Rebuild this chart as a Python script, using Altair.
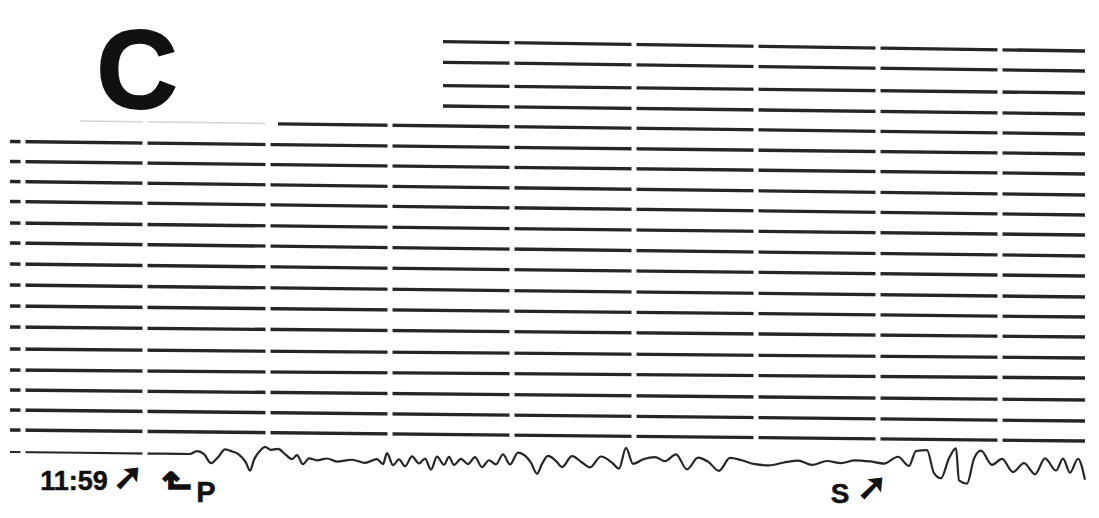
import altair as alt
import pandas as pd

# ---- record geometry (mm along / down the record) ----
minute_marks = [23, 145, 268, 390, 512, 634, 756, 878, 1000]
gap_top = [115, 115, 30, 30, 30, 30, 30, 30, 30]
gap_bottom = [458, 458, 446, 446, 446, 446, 446, 446, 446]

trace_start_x = [443, 443, 443, 443, 278] + [10] * 15
trace_start_pos = [41.7, 62.3, 85.7, 106, 123.8, 141.5, 161.5, 181.5, 201.5, 223,
                   243, 264, 285, 306, 327, 349, 370, 390, 410, 430]
trace_end_x = 1085
trace_end_pos = [51, 71, 93, 114, 134, 154, 174, 195, 215, 235,
                 256, 276, 297, 317, 337, 358, 378, 400, 421, 441]

faint_x = [80, 266]
faint_pos = [121, 123.5]

# last trace: baseline + wiggle displacement (down positive)
wiggle_base_start = 452
wiggle_base_drift = 0.011
wiggle_x = [10, 150, 190, 197, 204, 211, 218, 225, 232, 239, 246, 250, 254, 261, 265, 271,
            278, 285, 292, 297, 303, 309, 317, 327, 337, 352, 365, 377, 383, 387, 393, 399,
            405, 412, 419, 425, 431, 437, 444, 449, 454, 461, 468, 475, 482, 489, 496, 503,
            510, 518, 525, 531, 537, 542, 548, 556, 562, 572, 583, 590, 601, 612, 619, 626,
            633, 644, 655, 665, 676, 687, 698, 708, 719, 730, 741, 755, 769, 784, 798, 812,
            827, 841, 855, 870, 884, 898, 909, 916, 927, 934, 941, 949, 956, 959, 967, 974,
            981, 992, 1002, 1013, 1024, 1035, 1045, 1056, 1063, 1070, 1078, 1085]
wiggle_disp = [0, 0, 0, -3, 0, 9, 3, -5, -3, 0, 8, 16, 5, -5, -8, -5,
               -6, -1, 4, 0, 9, 3, 5, 3, 6, 4, 7, 3, 8, -3, 9, 3,
               10, 0, 7, 2, 13, 0, 8, 0, 8, 2, 7, 0, 10, 3, 7, -3,
               7, -5, -2, 5, 16, 6, -2, 3, 9, -2, 5, 9, -2, 4, 10, -11,
               5, 0, -2, 2, -5, 10, -2, 2, 11, -2, 0, 4, 5, 2, 0, 4,
               0, 2, -1, 0, 2, -5, 4, -11, -12, 11, 16, -4, -14, 18, 21, -4,
               -12, 2, -4, 9, 0, 11, -5, 7, -5, 9, -5, 16]

# annotations (positions in plot pixels)
letter_text = ["C", "11:59", "P", "S"]
letter_x = [129, 66, 198, 832]
letter_y = [100, 482, 494, 495]
letter_size = [112, 27, 29, 28]
letter_stroke = [2.0, 0.5, 0.5, 0.5]

arrow_text = ["➚", "↱", "➚"]
arrow_x = [120, 171, 864]
arrow_y = [470, 473, 480]
arrow_size = [36, 36, 36]
arrow_angle = [0, 270, 0]

# ---- tables ----
rows = []
for i, (sx, sp, ep) in enumerate(zip(trace_start_x, trace_start_pos, trace_end_pos)):
    rows.append({"trace": i, "x": sx, "pos": sp})
    rows.append({"trace": i, "x": trace_end_x, "pos": ep})
traces = pd.DataFrame(rows)

faint = pd.DataFrame({"x": faint_x, "pos": faint_pos})

wig = pd.DataFrame({"x": wiggle_x, "disp": wiggle_disp})
wig["pos"] = wiggle_base_start + wiggle_base_drift * (wig["x"] - wiggle_x[0]) + wig["disp"]

gaps = pd.DataFrame({"x": minute_marks, "top": gap_top, "bottom": gap_bottom})

letters = pd.DataFrame({"t": letter_text, "px": letter_x, "py": letter_y,
                        "s": letter_size, "w": letter_stroke})
arrows = pd.DataFrame({"t": arrow_text, "px": arrow_x, "py": arrow_y, "s": arrow_size, "a": arrow_angle})

xs = alt.Scale(domain=[8, 1091], nice=False, zero=False)
ys = alt.Scale(domain=[8, 510], reverse=True, nice=False, zero=False)

line_layer = alt.Chart(traces).mark_line(color="#262626", strokeWidth=3.3).encode(
    x=alt.X("x:Q", scale=xs, axis=None),
    y=alt.Y("pos:Q", scale=ys, axis=None),
    detail="trace:N",
)

faint_layer = alt.Chart(faint).mark_line(color="#d4d4d4", strokeWidth=1.5).encode(
    x=alt.X("x:Q", scale=xs, axis=None),
    y=alt.Y("pos:Q", scale=ys, axis=None),
)

wiggle_layer = alt.Chart(wig).mark_line(color="#262626", strokeWidth=2.2, interpolate="monotone").encode(
    x=alt.X("x:Q", scale=xs, axis=None),
    y=alt.Y("pos:Q", scale=ys, axis=None),
    order="x:Q",
)

gap_layer = alt.Chart(gaps).mark_rule(color="white", strokeWidth=5).encode(
    x=alt.X("x:Q", scale=xs, axis=None),
    y=alt.Y("top:Q", scale=ys, axis=None),
    y2="bottom:Q",
)

letter_layer = alt.Chart(letters).mark_text(
    font="Liberation Sans", fontWeight="bold", color="#111", stroke="#111",
    align="center", baseline="alphabetic"
).encode(
    x=alt.X("px:Q", scale=None),
    y=alt.Y("py:Q", scale=None),
    size=alt.Size("s:Q", scale=None, legend=None),
    strokeWidth=alt.StrokeWidth("w:Q", scale=None, legend=None),
    text="t:N",
)

arrow_layer = alt.Chart(arrows).mark_text(
    font="DejaVu Sans", fontWeight="bold", color="#111", stroke="#111", strokeWidth=1.4,
    align="center", baseline="middle"
).encode(
    x=alt.X("px:Q", scale=None),
    y=alt.Y("py:Q", scale=None),
    size=alt.Size("s:Q", scale=None, legend=None),
    angle=alt.Angle("a:Q", scale=None),
    text="t:N",
)

chart = alt.layer(
    faint_layer, line_layer, wiggle_layer, gap_layer, letter_layer, arrow_layer
).properties(
    width=1083, height=502, padding=0, background="white",
    autosize=alt.AutoSizeParams(type="none"),
).configure_view(stroke=None)

chart.save("out.html", embed_options={"renderer": "svg", "actions": False})
